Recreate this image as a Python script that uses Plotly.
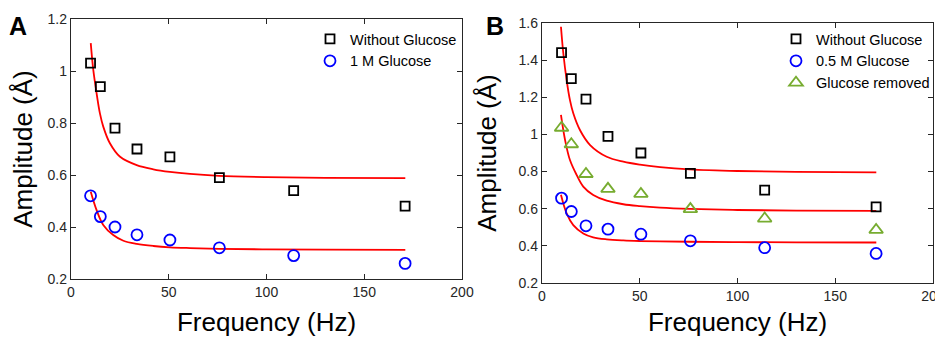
import plotly.graph_objects as go

W, H = 943, 337
PAD = 8  # default page body margin of the html page
FW, FH = W - PAD, H - PAD

# ---------- data ----------
freq = [10, 15, 22.5, 33.75, 50.6, 75.9, 113.9, 170.9]

a_without = [1.03, 0.94, 0.78, 0.70, 0.67, 0.59, 0.54, 0.48]
a_glucose = [0.52, 0.44, 0.40, 0.37, 0.35, 0.32, 0.29, 0.26]

b_without = [1.44, 1.30, 1.19, 0.99, 0.90, 0.79, 0.70, 0.61]
b_glucose = [0.657, 0.585, 0.508, 0.49, 0.463, 0.427, 0.39, 0.359]
b_removed = [1.036, 0.947, 0.787, 0.707, 0.68, 0.598, 0.547, 0.486]

# fitted curves
fitA1_f = [10.1, 11.4, 13.1, 14.8, 16.5, 19.9, 25.1, 33.6, 42.1, 50.6, 60.9, 75.7, 100, 130, 171]
fitA1_v = [1.107, 1.004, 0.914, 0.837, 0.786, 0.722, 0.670, 0.638, 0.622, 0.612, 0.604, 0.597, 0.592, 0.589, 0.588]
fitA2_f = [10.1, 13.1, 16.5, 21.6, 26.8, 33.6, 42.1, 50.6, 60.9, 75.7, 100, 130, 171]
fitA2_v = [0.536, 0.465, 0.408, 0.369, 0.347, 0.335, 0.327, 0.322, 0.319, 0.316, 0.314, 0.313, 0.312]

fitB1_f = [9.7, 10.9, 12.6, 14.3, 16.0, 19.4, 24.6, 33.1, 41.6, 50.1, 60.4, 75.5, 100, 130, 171]
fitB1_v = [1.58, 1.437, 1.293, 1.185, 1.114, 1.024, 0.943, 0.880, 0.853, 0.837, 0.824, 0.812, 0.803, 0.798, 0.796]
fitB2_f = [9.7, 11.8, 14.3, 17.7, 21.1, 26.2, 33.1, 41.6, 50.1, 60.4, 75.5, 100, 130, 171]
fitB2_v = [1.105, 0.97, 0.862, 0.782, 0.719, 0.674, 0.643, 0.624, 0.614, 0.606, 0.599, 0.593, 0.590, 0.588]
fitB3_f = [9.7, 12.6, 16.0, 21.1, 26.2, 33.1, 41.6, 50.1, 60.4, 75.5, 100, 130, 171]
fitB3_v = [0.675, 0.575, 0.512, 0.467, 0.446, 0.435, 0.429, 0.426, 0.424, 0.422, 0.420, 0.419, 0.418]

x_ticks = [0, 50, 100, 150, 200]
yA_ticks = [0.2, 0.4, 0.6, 0.8, 1.0, 1.2]
yA_labels = ["0.2", "0.4", "0.6", "0.8", "1", "1.2"]
yB_ticks = [0.2, 0.4, 0.6, 0.8, 1.0, 1.2, 1.4, 1.6]
yB_labels = ["0.2", "0.4", "0.6", "0.8", "1", "1.2", "1.4", "1.6"]

# ---------- styles ----------
FONT = "Arial, Liberation Sans, sans-serif"
AX = "#262626"
RED = "#FF0000"
BLUE = "#0000FF"
GREEN = "#77AC30"

fig = go.Figure()

def pts(x, y, name, symbol, color, size, xa, ya, legend):
    fig.add_trace(go.Scatter(
        x=x, y=y, mode="markers", name=name, xaxis=xa, yaxis=ya, legend=legend,
        marker=dict(symbol=symbol, size=size, color=color,
                    line=dict(color=color, width=1.8))))

def fit(x, y, xa, ya):
    fig.add_trace(go.Scatter(
        x=x, y=y, mode="lines", showlegend=False, xaxis=xa, yaxis=ya,
        line=dict(color=RED, width=1.8, shape="spline", smoothing=1.0),
        hoverinfo="skip"))

# Panel A
fit(fitA1_f, fitA1_v, "x", "y")
fit(fitA2_f, fitA2_v, "x", "y")
pts(freq, a_without, "Without Glucose", "square-open", "#000000", 9, "x", "y", "legend")
pts(freq, a_glucose, "1 M Glucose", "circle-open", BLUE, 11, "x", "y", "legend")

# Panel B
fit(fitB1_f, fitB1_v, "x2", "y2")
fit(fitB2_f, fitB2_v, "x2", "y2")
fit(fitB3_f, fitB3_v, "x2", "y2")
pts(freq, b_without, "Without Glucose", "square-open", "#000000", 9, "x2", "y2", "legend2")
pts(freq, b_glucose, "0.5 M Glucose", "circle-open", BLUE, 11, "x2", "y2", "legend2")
pts(freq, b_removed, "Glucose removed", "triangle-up-open", GREEN, 12, "x2", "y2", "legend2")

def xaxis(dom):
    return dict(domain=dom, range=[0, 200], tickvals=x_ticks, ticks="inside", ticklen=5,
                tickcolor=AX, showline=True, linecolor=AX, linewidth=1.3, mirror="ticks",
                showgrid=False, zeroline=False, automargin=False, ticklabeloverflow="allow",
                tickfont=dict(family=FONT, size=14, color=AX),
                title=dict(text="Frequency (Hz)", font=dict(family=FONT, size=26, color="#000"),
                           standoff=13))

def yaxis(dom, rng, tv, tt, anchor):
    return dict(domain=dom, range=rng, tickvals=tv, ticktext=tt, ticks="inside", ticklen=5,
                tickcolor=AX, showline=True, linecolor=AX, linewidth=1.3, mirror="ticks",
                showgrid=False, zeroline=False, anchor=anchor, automargin=False,
                ticklabeloverflow="allow",
                tickfont=dict(family=FONT, size=14, color=AX),
                title=dict(text="Amplitude (Å)", font=dict(family=FONT, size=26, color="#000"),
                           standoff=14))

def fx(px):
    return (px - PAD) / FW

def fy(py):
    return 1 - (py - PAD) / FH

fig.update_layout(
    width=FW, height=FH,
    margin=dict(l=0, r=0, t=0, b=0, autoexpand=False),
    paper_bgcolor="white", plot_bgcolor="white",
    xaxis=dict(xaxis([fx(71), fx(462)]), anchor="y"),
    yaxis=yaxis([fy(279), fy(19)], [0.2, 1.2], yA_ticks, yA_labels, "x"),
    xaxis2=dict(xaxis([fx(542), fx(933)]), anchor="y2"),
    yaxis2=yaxis([fy(283), fy(23)], [0.2, 1.6], yB_ticks, yB_labels, "x2"),
    legend=dict(x=fx(310), y=fy(23), xanchor="left", yanchor="top",
                bgcolor="rgba(0,0,0,0)", font=dict(family=FONT, size=14.5, color="#000"),
                itemwidth=30, tracegroupgap=0),
    legend2=dict(x=fx(776), y=fy(23), xanchor="left", yanchor="top",
                 bgcolor="rgba(0,0,0,0)", font=dict(family=FONT, size=14.5, color="#000"),
                 itemwidth=30, tracegroupgap=0),
    annotations=[
        dict(text="<b>A</b>", x=fx(7), y=fy(10), xref="paper", yref="paper",
             xanchor="left", yanchor="top", showarrow=False,
             font=dict(family=FONT, size=25, color="#000")),
        dict(text="<b>B</b>", x=fx(484), y=fy(10), xref="paper", yref="paper",
             xanchor="left", yanchor="top", showarrow=False,
             font=dict(family=FONT, size=25, color="#000")),
    ],
    showlegend=True,
)

fig.write_html("out.html")
